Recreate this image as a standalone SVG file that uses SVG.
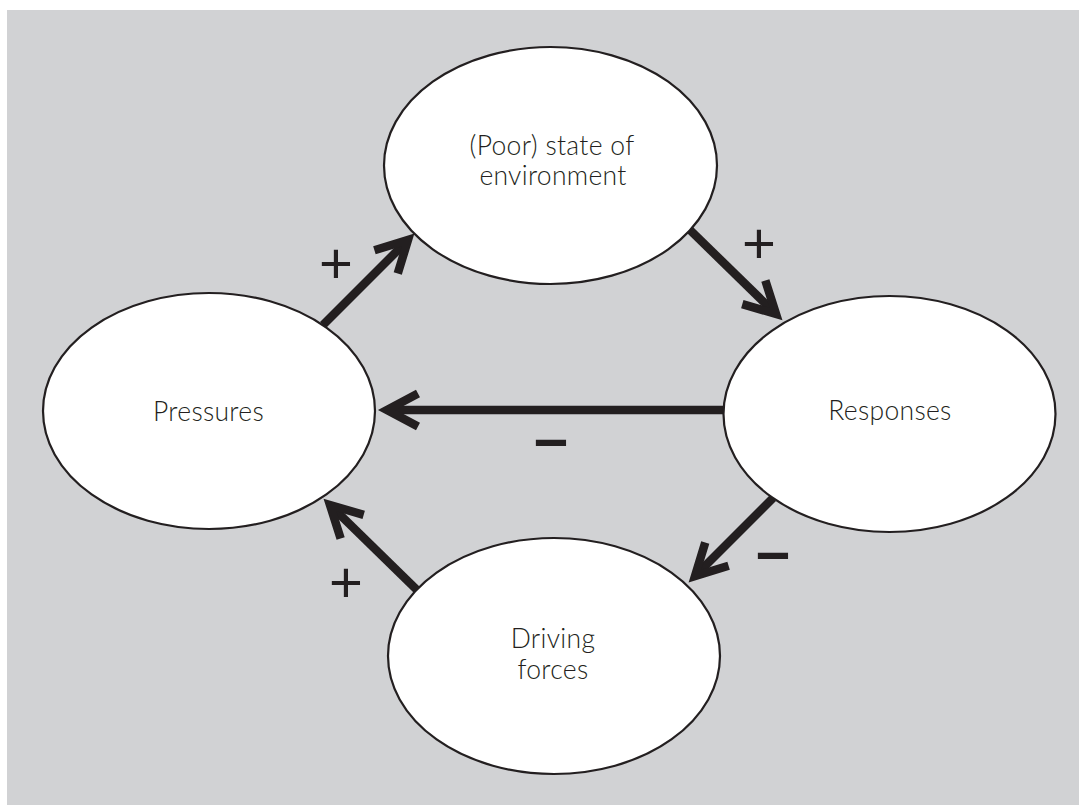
<svg xmlns="http://www.w3.org/2000/svg" width="1079" height="805" viewBox="0 0 1079 805">
<style>
.node{fill:#ffffff;stroke:#231f20;stroke-width:2.2}
.lbl{font-family:"Lato","Open Sans","Liberation Sans",sans-serif;font-weight:300;font-size:26.5px;letter-spacing:0.3px;fill:#231f20;text-anchor:middle}
.sign{font-family:"Liberation Sans",sans-serif;font-size:58px;fill:#231f20;text-anchor:middle}
.minus{stroke:#231f20;stroke-width:2}
.conn{stroke:#231f20;stroke-width:8.5;fill:none;marker-end:url(#head)}
</style>
<defs>
<marker id="head" markerUnits="userSpaceOnUse" markerWidth="70" markerHeight="70" refX="0" refY="0" viewBox="-45 -35 70 70" orient="auto">
<path d="M -31 -16.5 L 0 0 L -31 16.5" fill="none" stroke="#231f20" stroke-width="8.5" stroke-linejoin="miter" stroke-miterlimit="10"/>
</marker>
</defs>
<rect x="7" y="10" width="1072" height="795" fill="#d1d2d4"/>
<g id="connectors">
<line class="conn" x1="323" y1="325" x2="408" y2="240"/>
<line class="conn" x1="690" y1="230" x2="776" y2="314"/>
<line class="conn" x1="723" y1="410" x2="387" y2="410"/>
<line class="conn" x1="773" y1="498" x2="695" y2="576"/>
<line class="conn" x1="417" y1="590" x2="330" y2="505"/>
<text class="sign" x="336" y="283">+</text>
<text class="sign" x="759" y="263">+</text>
<text class="sign" x="346" y="602">+</text>
<text class="sign minus" x="551" y="462">−</text>
<text class="sign minus" x="773" y="575">−</text>
</g>
<g id="state">
<ellipse class="node" cx="550.5" cy="165.5" rx="166.5" ry="118.5"/>
<text class="lbl" x="552" y="155">(Poor) state of</text>
<text class="lbl" x="553" y="185">environment</text>
</g>
<g id="pressures">
<ellipse class="node" cx="209" cy="411" rx="166" ry="118"/>
<text class="lbl" x="208.5" y="421">Pressures</text>
</g>
<g id="responses">
<ellipse class="node" cx="889.5" cy="414" rx="166" ry="118"/>
<text class="lbl" x="890" y="420">Responses</text>
</g>
<g id="driving">
<ellipse class="node" cx="554" cy="656" rx="166" ry="118"/>
<text class="lbl" x="553" y="648">Driving</text>
<text class="lbl" x="553" y="679">forces</text>
</g>
</svg>
